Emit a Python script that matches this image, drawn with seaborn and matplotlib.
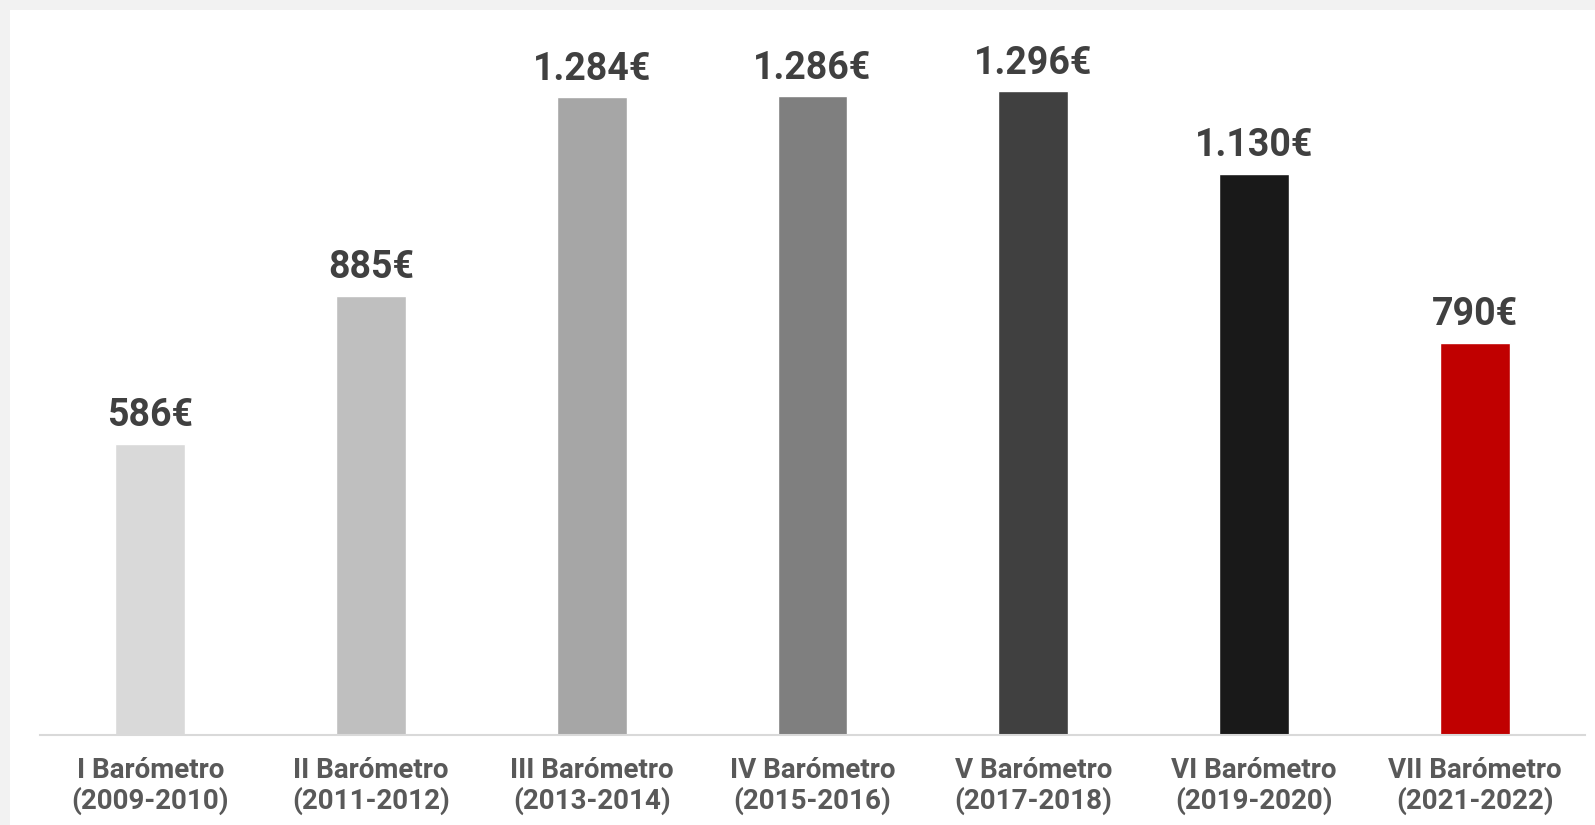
import pandas as pd
import seaborn as sns
import matplotlib.pyplot as plt
from matplotlib.patches import Rectangle

# Data
barometros = ["I Barómetro\n(2009-2010)", "II Barómetro\n(2011-2012)", "III Barómetro\n(2013-2014)",
              "IV Barómetro\n(2015-2016)", "V Barómetro\n(2017-2018)", "VI Barómetro\n(2019-2020)",
              "VII Barómetro\n(2021-2022)"]
importe = [586, 885, 1284, 1286, 1296, 1130, 790]
colores = ["#d9d9d9", "#bfbfbf", "#a6a6a6", "#7f7f7f", "#404040", "#191919", "#c00000"]

data = pd.DataFrame({"Barometro": barometros, "Importe": importe})

sns.set_style("white")
plt.rcParams["font.family"] = ["Roboto", "DejaVu Sans"]

fig = plt.figure(figsize=(15.95, 8.25), dpi=100)
fig.patch.set_facecolor("#f2f2f2")
# white panel
fig.patches.append(Rectangle((10 / 1595, 0), 1 - 10 / 1595, 1 - 10 / 825,
                             transform=fig.transFigure, facecolor="white", edgecolor="none", zorder=-10))

ax = fig.add_axes([40 / 1595, 90 / 825, 1545 / 1595, 725 / 825])
ax.set_facecolor("none")

sns.barplot(data=data, x="Barometro", y="Importe", hue="Barometro", palette=colores,
            legend=False, width=0.317, saturation=1, ax=ax)

# Value labels
for cont, v in zip(ax.containers, importe):
    lbl = f"{v:,}€".replace(",", ".")
    ax.bar_label(cont, labels=[lbl], padding=7, fontsize=27, fontweight="bold", color="#404040")

ax.set_xlim(-0.5, 6.5)
ax.set_ylim(0, 1460)
ax.set_xlabel("")
ax.set_ylabel("")
ax.set_yticks([])
for s in ["top", "right", "left"]:
    ax.spines[s].set_visible(False)
ax.spines["bottom"].set_color("#d9d9d9")
ax.spines["bottom"].set_linewidth(1.5)
ax.tick_params(axis="x", length=0, pad=16)
for t in ax.get_xticklabels():
    t.set_fontsize(20)
    t.set_fontweight("bold")
    t.set_color("#595959")
    t.set_linespacing(1.12)

fig.savefig("out.png", dpi=100, facecolor=fig.get_facecolor())
